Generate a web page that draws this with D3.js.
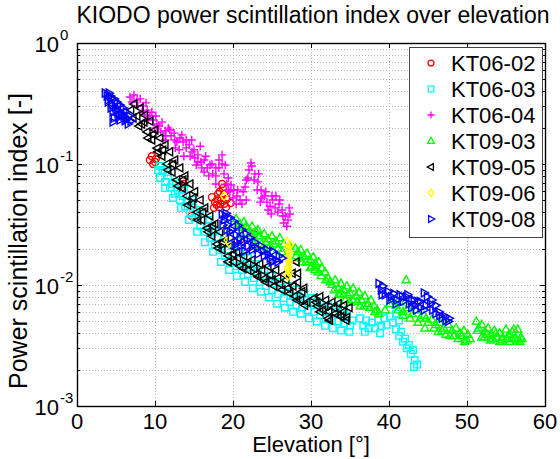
<!DOCTYPE html>
<html>
<head>
<meta charset="utf-8">
<script src="https://cdn.jsdelivr.net/npm/d3@7"></script>
<style>
  html, body { margin: 0; padding: 0; background: #fff; }
  svg { display: block; font-family: Arial, "Liberation Sans", sans-serif; }
</style>
</head>
<body>
<svg id="chart" width="560" height="459"></svg>
<script>
// Each series: [elevation in degrees, power scintillation index]
const KT06_02 = [
  [9.35,0.108],[9.75,0.100],[10.1,0.110],[9.6,0.116],[10.0,0.104],[13.1,0.0658],[13.5,0.0610],[13.7,0.0684],
  [13.4,0.0640],[17.3,0.0532],[17.7,0.0484],[18.1,0.0565],[18.5,0.0504],[18.7,0.0632],[18.85,0.0565],
  [19.2,0.0514],[18.2,0.0440],[17.55,0.0434],[19.1,0.0440],[18.6,0.0684],[18.0,0.0510],[18.4,0.0470],
  [17.9,0.0460],[18.9,0.0470],[18.3,0.0590],[14.7,0.0371],[20.9,0.0235],[22.7,0.0263],[19.7,0.0476]
];
const KT06_03 = [
  [10.4,0.0892],[10.65,0.0767],[11.0,0.0892],[11.3,0.0711],[11.7,0.0797],[11.9,0.0637],[12.3,0.0684],
  [12.55,0.0568],[12.95,0.0610],[13.2,0.0504],[13.6,0.0544],[13.85,0.0448],[14.2,0.0484],[14.5,0.0400],
  [14.9,0.0434],[15.1,0.0358],[15.5,0.0386],[15.8,0.0306],[16.15,0.0344],[16.4,0.0275],[16.8,0.0306],
  [17.05,0.0245],[17.4,0.0275],[17.7,0.0218],[18.1,0.0245],[18.3,0.0195],[18.7,0.0218],[19.0,0.0174],
  [19.4,0.0195],[19.6,0.0155],[20.0,0.0174],[20.4,0.0143],[20.8,0.0161],[21.15,0.0133],[21.5,0.0149],
  [21.9,0.0123],[22.3,0.0137],[22.7,0.0114],[23.1,0.0128],[23.45,0.0106],[23.85,0.0118],[24.2,0.0098],
  [24.6,0.0110],[25.0,0.0091],[25.4,0.0102],[25.8,0.0084],[26.15,0.0094],[26.5,0.0078],[26.9,0.0087],
  [27.3,0.0072],[27.7,0.0081],[28.1,0.0068],[28.45,0.0078],[28.85,0.0065],[29.2,0.0075],[29.6,0.0062],
  [30.0,0.0072],[30.4,0.0060],[30.8,0.0070],[31.15,0.0056],[31.5,0.0065],[31.9,0.0053],[32.3,0.0062],
  [32.7,0.0051],[33.1,0.0060],[33.5,0.0050],[33.85,0.0058],[34.2,0.0048],[34.6,0.0056],[35.0,0.0046],
  [35.3,0.0051],
  [10.65,0.0964],[11.65,0.0859],[12.7,0.0711],[13.7,0.0610],[14.75,0.0504],[15.8,0.0417],[16.8,0.0344],
  [17.8,0.0285],[18.85,0.0245],[19.9,0.0210],[20.9,0.0188],[21.9,0.0167],[22.95,0.0149],[24.0,0.0133],
  [25.0,0.0119],[26.0,0.0106],[27.05,0.0098],[28.1,0.0091],[29.1,0.0085],[30.1,0.0078],[31.15,0.0072],
  [32.2,0.0068],[33.2,0.0065],[34.2,0.0062],
  [11.3,0.0632],[12.3,0.0524],[13.35,0.0434],[14.35,0.0344],[15.4,0.0275],[16.4,0.0226],[17.45,0.0188],
  [18.45,0.0155],[19.5,0.0133],[20.5,0.0119],[21.55,0.0106],[22.55,0.0094],[23.6,0.0088],[24.6,0.0079],
  [25.65,0.0070],[26.65,0.0065],[27.7,0.0060],[28.7,0.0058],[29.75,0.0053],[30.75,0.0050],[31.8,0.0046],
  [32.8,0.0044],[33.85,0.0042],[34.9,0.0041],
  [36.3,0.0053],[36.7,0.0046],[37.05,0.0051],[37.4,0.0044],[37.8,0.0049],[38.2,0.0044],[38.6,0.0051],
  [39.0,0.0046],[39.4,0.0053],[39.7,0.0047],[40.1,0.0055],[40.5,0.0049],[40.9,0.0058],[41.3,0.0051],
  [36.9,0.0041],[38.85,0.0040],
  [40.9,0.0043],[41.3,0.0038],[41.55,0.0041],[41.8,0.0034],[42.05,0.0036],[42.3,0.0030],[42.55,0.0032],
  [42.8,0.0027],[43.1,0.0029],[43.3,0.0024],[43.6,0.0022],[43.2,0.0021]
];
const KT06_04 = [
  [6.8,0.358],[7.3,0.372],[7.7,0.338],[8.1,0.345],[8.5,0.302],[8.85,0.320],[9.0,0.279],[9.35,0.249],
  [9.75,0.231],[10.1,0.249],[10.5,0.206],[10.9,0.222],[11.3,0.188],[11.7,0.198],[12.05,0.171],[12.45,0.180],
  [12.8,0.152],[13.2,0.164],[13.6,0.152],[14.0,0.136],[14.4,0.144],[14.75,0.126],[15.1,0.112],[15.5,0.119],
  [15.9,0.104],[16.3,0.108],[16.7,0.0929],[17.05,0.0982],[17.4,0.0828],[17.8,0.0929],[18.2,0.108],
  [18.6,0.119],[19.0,0.0982],[19.4,0.0767],[19.75,0.0671],[20.1,0.0610],[20.5,0.0544],[20.9,0.0504],
  [21.3,0.0590],[21.7,0.0738],[22.05,0.0892],[22.4,0.0964],[22.8,0.0828],[23.2,0.0711],[23.6,0.0610],
  [24.0,0.0544],[24.35,0.0484],[24.75,0.0448],[25.1,0.0504],[25.5,0.0544],[25.9,0.0467],[26.3,0.0417],
  [26.7,0.0372],[27.05,0.0344],[27.3,0.0386],[26.5,0.0325],[24.9,0.0386],[23.5,0.0484],[21.7,0.0504],
  [20.4,0.0467],[19.4,0.0610],[17.8,0.0684],[16.3,0.0856],[15.3,0.0982],[13.7,0.116],[12.6,0.136],
  [11.3,0.158],[9.9,0.198],[8.7,0.254],[14.7,0.158],[15.8,0.140],
  [7.05,0.325],[7.8,0.302],[8.35,0.268],[9.1,0.231],[9.6,0.268],[10.25,0.214],[10.75,0.184],[11.4,0.171],
  [11.9,0.191],[12.55,0.158],[13.1,0.131],[13.45,0.174],[14.0,0.158],[14.5,0.116],[15.0,0.131],[15.5,0.104],
  [16.0,0.0929],[16.5,0.116],[16.9,0.0797],[17.3,0.100],[17.8,0.0797],[18.2,0.0929],[18.6,0.100],
  [18.85,0.0828],[19.2,0.0684],[19.6,0.0590],[20.0,0.0524],[20.6,0.0610],[21.15,0.0467],[21.55,0.0646],
  [21.9,0.0767],[22.3,0.102],[22.7,0.0738],[23.1,0.0610],[23.3,0.0828],[23.7,0.0524],[24.2,0.0590],
  [24.5,0.0417],[25.0,0.0544],[25.4,0.0434],[25.75,0.0400],[26.0,0.0504],[26.4,0.0372],[26.9,0.0306],
  [27.2,0.0434]
];
const KT09_03 = [
  [20.4,0.0352],[20.9,0.0320],[21.4,0.0333],[21.9,0.0295],[22.45,0.0306],[22.95,0.0275],[23.45,0.0254],
  [24.0,0.0265],[24.5,0.0240],[25.0,0.0254],[25.5,0.0230],[26.0,0.0245],[26.5,0.0218],[28.0,0.0200],
  [28.3,0.0188],[28.7,0.0195],[29.1,0.0174],[29.5,0.0182],[29.9,0.0162],[30.3,0.0170],[30.6,0.0150],
  [31.0,0.0155],[31.4,0.0138],[31.8,0.0128],[32.2,0.0114],[28.85,0.0154],[29.9,0.0139],[30.9,0.0128],
  [27.3,0.0209],[22.8,0.0212],[24.1,0.0195],
  [20.6,0.0300],[21.15,0.0259],[21.65,0.0306],[22.2,0.0265],[22.7,0.0245],[23.2,0.0285],[23.7,0.0218],
  [24.2,0.0226],[24.75,0.0210],[25.25,0.0218],[25.75,0.0200],[26.3,0.0188],[28.1,0.0174],[28.6,0.0167],
  [29.35,0.0155],[30.1,0.0143],[30.5,0.0133],[31.3,0.0119],[31.9,0.0110],[32.45,0.0106],
  [32.7,0.0101],[33.1,0.0110],[33.5,0.0094],[33.85,0.0103],[34.2,0.0091],[34.6,0.0098],[35.0,0.0086],
  [35.4,0.0094],[35.8,0.0081],[36.15,0.0087],[36.5,0.0075],[36.9,0.0081],[37.3,0.0070],[37.7,0.0075],
  [38.1,0.0067],[38.5,0.0062],[33.7,0.0083],[35.0,0.0072],[36.3,0.0067],[34.4,0.0075],
  [33.0,0.0091],[33.6,0.0085],[34.1,0.0083],[34.75,0.0083],[35.4,0.0075],[35.9,0.0073],[36.8,0.0067],
  [37.55,0.0065],[38.2,0.0060],[38.7,0.0058],[39.5,0.0062],[40.1,0.0070],
  [40.5,0.0075],[40.9,0.0068],[41.4,0.0072],[41.8,0.0060],[42.2,0.0110],[42.4,0.0065],[43.0,0.0058],
  [43.5,0.0062],[44.0,0.0053],[44.5,0.0056],[45.0,0.0049],[45.5,0.0052],[46.0,0.0047],[46.5,0.0049],
  [47.05,0.0044],[47.6,0.0047],[48.1,0.0042],[48.6,0.0044],[49.1,0.0040],[49.6,0.0042],[50.1,0.0039],
  [49.7,0.0034],[44.6,0.0044],[46.3,0.0041],[47.8,0.0038],[41.8,0.0056],
  [41.15,0.0062],[42.7,0.0053],[43.7,0.0049],[44.75,0.0053],[45.75,0.0044],[46.8,0.0042],[47.3,0.0039],
  [48.3,0.0038],[48.85,0.0036],[49.35,0.0038],[50.0,0.0035],[50.4,0.0036],
  [51.2,0.0050],[51.5,0.0044],[51.9,0.0047],[52.3,0.0041],[52.7,0.0044],[53.1,0.0039],[53.5,0.0042],
  [53.8,0.0037],[54.2,0.0040],[54.6,0.0037],[55.0,0.0043],[55.4,0.0039],[55.8,0.0041],[56.2,0.0036],
  [56.5,0.0043],[56.9,0.0037],[53.0,0.0035],[54.2,0.0034],[55.5,0.0034],[56.8,0.0034],[51.9,0.0037],
  [51.3,0.0042],[52.2,0.0037],[52.55,0.0039],[53.3,0.0036],[53.7,0.0040],[54.5,0.0035],[55.1,0.0036],
  [55.8,0.0036],[56.4,0.0035],[57.05,0.0036],[56.0,0.0043]
];
const KT09_05 = [
  [6.9,0.279],[7.3,0.313],[7.7,0.249],[8.1,0.290],[8.3,0.214],[8.7,0.254],[9.0,0.184],[9.35,0.226],
  [9.6,0.158],[10.0,0.191],[10.3,0.135],[10.65,0.164],[10.9,0.116],[11.3,0.144],[11.55,0.100],[11.9,0.126],
  [12.2,0.0856],[12.55,0.108],[12.8,0.0738],[13.2,0.0929],[13.5,0.0632],[13.85,0.0797],[14.1,0.0544],
  [14.5,0.0684],[14.75,0.0467],[15.1,0.0590],[15.4,0.0400],[15.8,0.0504],[16.0,0.0344],[16.4,0.0434],
  [16.7,0.0295],[17.05,0.0372],[17.3,0.0254],[17.7,0.0320],[17.95,0.0218],[18.3,0.0275],[18.6,0.0195],
  [19.0,0.0235],[19.4,0.0174],[19.75,0.0210],[20.1,0.0155],[20.5,0.0188],[20.9,0.0143],[21.4,0.0174],
  [21.9,0.0133],[22.45,0.0161],[22.95,0.0123],[23.45,0.0149],[24.0,0.0113],[24.5,0.0143],[25.0,0.0110],
  [25.5,0.0133],[26.0,0.0102],[26.5,0.0122],[27.05,0.0094],[27.6,0.0125],[27.9,0.0081],[28.3,0.0105],
  [28.7,0.0075],[29.1,0.0094],[29.5,0.0072],[28.1,0.0155],
  [7.2,0.240],[7.95,0.206],[8.6,0.222],[9.1,0.164],[9.75,0.176],[10.4,0.126],[11.0,0.130],[11.65,0.0892],
  [12.3,0.0996],[12.95,0.0658],[13.6,0.0738],[14.2,0.0458],[14.9,0.0524],[15.5,0.0344],[16.15,0.0400],
  [16.8,0.0275],[17.4,0.0306],[18.1,0.0202],[18.7,0.0226],[19.4,0.0155],[20.0,0.0180],[20.6,0.0168],
  [21.3,0.0137],[21.9,0.0149],[22.7,0.0137],[23.2,0.0117],[23.7,0.0133],[24.2,0.0106],[24.75,0.0121],
  [25.25,0.0098],[25.75,0.0114],[26.3,0.0091],[26.8,0.0110],[27.3,0.0085],[27.7,0.0098],[28.2,0.0075],
  [28.85,0.0088],[29.2,0.0068],[28.3,0.0125],
  [30.4,0.0078],[30.8,0.0067],[31.15,0.0080],[31.5,0.0062],[31.9,0.0075],[32.3,0.0060],[32.7,0.0072],
  [33.1,0.0058],[33.5,0.0070],[33.85,0.0055],[34.2,0.0068],[34.6,0.0054],[34.9,0.0065],[32.4,0.0051],
  [30.65,0.0072],[31.15,0.0060],[31.8,0.0067],[32.2,0.0053],[32.95,0.0065],[33.5,0.0056],[34.1,0.0060],
  [34.5,0.0051]
];
const KT09_06 = [
  [18.85,0.0544],[19.1,0.0295],[19.35,0.0267],[19.6,0.0245],[19.5,0.0222],[19.3,0.0235],
  [26.9,0.0226],[27.05,0.0205],[27.2,0.0188],[27.05,0.0170],[27.2,0.0155],[27.05,0.0141],[27.2,0.0128],
  [27.05,0.0119],[27.3,0.0214],[27.1,0.0195],[27.1,0.0162],[27.1,0.0134]
];
const KT09_08 = [
  [3.6,0.386],[3.85,0.365],[4.1,0.386],[4.0,0.338],[4.35,0.350],[4.5,0.313],[4.75,0.345],[4.9,0.296],
  [5.1,0.325],[5.25,0.279],[5.5,0.307],[5.65,0.264],[5.9,0.290],[6.0,0.249],[6.3,0.269],[6.4,0.235],
  [6.7,0.249],[6.9,0.227],[4.6,0.269],[4.75,0.240],[4.35,0.290],[5.4,0.244],[6.15,0.227],[6.55,0.214],
  [4.6,0.222],[4.0,0.325],[5.0,0.279],[5.75,0.254],[5.25,0.259],[6.3,0.240],[4.25,0.365],[5.5,0.231],
  [18.6,0.0385],[18.85,0.0344],[19.1,0.0390],[19.35,0.0313],[19.6,0.0360],[19.9,0.0285],[20.1,0.0335],
  [20.4,0.0259],[20.65,0.0310],[20.9,0.0245],[21.15,0.0285],[21.4,0.0226],[21.65,0.0265],[21.9,0.0210],
  [22.2,0.0245],[22.45,0.0195],[22.8,0.0226],[23.2,0.0180],[23.6,0.0210],[24.0,0.0174],[24.35,0.0195],
  [24.75,0.0167],[25.1,0.0190],[25.5,0.0161],[25.9,0.0174],[26.3,0.0167],[20.25,0.0214],[21.5,0.0190],
  [19.6,0.0275],[18.7,0.0313],[19.2,0.0285],[19.75,0.0245],[20.5,0.0226],[21.0,0.0210],[21.8,0.0235],
  [22.6,0.0210],[23.1,0.0200],[23.85,0.0190],[24.5,0.0177],[25.0,0.0155],[25.75,0.0155],[19.0,0.0372],
  [38.7,0.0103],[39.0,0.0091],[39.2,0.0098],[39.5,0.0083],[39.9,0.0088],[40.3,0.0080],[40.6,0.0085],
  [41.0,0.0075],[41.4,0.0083],[41.8,0.0073],[42.2,0.0080],[42.6,0.0070],[42.9,0.0075],[43.3,0.0068],
  [43.7,0.0073],[44.1,0.0065],[44.5,0.0086],[44.9,0.0080],[45.3,0.0070],[45.6,0.0062],[46.0,0.0058],
  [46.4,0.0060],[46.8,0.0053],[47.2,0.0055],[47.6,0.0050],[44.5,0.0062],[43.5,0.0062],
  [39.1,0.0083],[40.1,0.0075],[40.9,0.0070],[41.7,0.0080],[42.4,0.0083],[43.2,0.0075],[44.0,0.0073],
  [44.75,0.0068],[45.5,0.0075],[46.0,0.0068],[46.5,0.0056],[47.3,0.0051],[47.7,0.0053],[42.9,0.0065]
];

const seriesNames  = ["KT06-02", "KT06-03", "KT06-04", "KT09-03", "KT09-05", "KT09-06", "KT09-08"];
const seriesData   = [KT06_02, KT06_03, KT06_04, KT09_03, KT09_05, KT09_06, KT09_08];
const seriesColors = ["#ff0000", "#00ffff", "#ff00ff", "#00ff00", "#000000", "#ffff00", "#0000ff"];
const seriesMarks  = ["circle", "square", "plus", "triUp", "triLeft", "diamond", "triRight"];

const xTicks = [0, 10, 20, 30, 40, 50, 60];
const yExponents = [-3, -2, -1, 0];

const titleText = "KIODO power scintillation index over elevation";
const xLabelText = "Elevation [\u00b0]";
const yLabelText = "Power scintillation index [-]";

// ---- layout ----
const plot = { left: 77, right: 545, top: 43, bottom: 406 };

const svg = d3.select("#chart");
const x = d3.scaleLinear().domain([0, 60]).range([plot.left, plot.right]);
const y = d3.scaleLog().domain([1e-3, 1]).range([plot.bottom, plot.top]);

// open marker symbols
const markerPath = {
  circle:   "M3.5,0A3.5,3.5 0 1,1 -3.5,0A3.5,3.5 0 1,1 3.5,0Z",
  square:   "M-3.3,-3.3H3.3V3.3H-3.3Z",
  plus:     "M-4.2,0H4.2M0,-4.2V4.2",
  triUp:    "M0,-4.4L4,2.8H-4Z",
  triLeft:  "M-4.4,0L2.8,-4V4Z",
  diamond:  "M0,-4.4L3.4,0L0,4.4L-3.4,0Z",
  triRight: "M4.4,0L-2.8,-4V4Z"
};

// ---- grid ----
const grid = svg.append("g").attr("stroke", "#b4b4b4").attr("stroke-width", 1)
  .attr("stroke-dasharray", "1,2").attr("fill", "none");
const yGridVals = [];
yExponents.slice(0, -1).forEach(e => {
  for (let m = 1; m <= 9; m++) yGridVals.push(m * Math.pow(10, e));
});
const yInner = yGridVals.filter(v => v > 1e-3 && v < 1);
grid.selectAll("line.gy").data(yInner).join("line")
  .attr("x1", plot.left).attr("x2", plot.right)
  .attr("y1", d => Math.round(y(d)) + 0.5).attr("y2", d => Math.round(y(d)) + 0.5);
grid.selectAll("line.gx").data(xTicks.slice(1, -1)).join("line")
  .attr("y1", plot.top).attr("y2", plot.bottom)
  .attr("x1", d => Math.round(x(d)) + 0.5).attr("x2", d => Math.round(x(d)) + 0.5);

// ---- data markers ----
const dataG = svg.append("g");
seriesData.forEach((arr, i) => {
  dataG.append("g")
    .attr("fill", "none").attr("stroke", seriesColors[i]).attr("stroke-width", 1.4)
    .selectAll("path").data(arr).join("path")
    .attr("d", markerPath[seriesMarks[i]])
    .attr("transform", d => `translate(${x(d[0])},${y(d[1])})`);
});

// ---- axes box and inward ticks ----
const axG = svg.append("g").attr("stroke", "#000").attr("fill", "none");
axG.append("rect")
  .attr("x", plot.left + 0.5).attr("y", plot.top + 0.5)
  .attr("width", plot.right - plot.left).attr("height", plot.bottom - plot.top)
  .attr("stroke-width", 1.4);

const majorLen = 5, minorLen = 3;
xTicks.slice(1, -1).forEach(t => {
  const px = Math.round(x(t)) + 0.5;
  axG.append("line").attr("x1", px).attr("x2", px).attr("y1", plot.bottom).attr("y2", plot.bottom - majorLen);
  axG.append("line").attr("x1", px).attr("x2", px).attr("y1", plot.top).attr("y2", plot.top + majorLen);
});
yInner.forEach(v => {
  const py = Math.round(y(v)) + 0.5;
  const isMajor = Math.abs(Math.log10(v) - Math.round(Math.log10(v))) < 1e-9;
  const len = isMajor ? majorLen : minorLen;
  axG.append("line").attr("x1", plot.left).attr("x2", plot.left + len).attr("y1", py).attr("y2", py);
  axG.append("line").attr("x1", plot.right).attr("x2", plot.right - len).attr("y1", py).attr("y2", py);
});

// ---- tick labels ----
const fs = 22;
const labG = svg.append("g").attr("fill", "#000").style("font-size", fs + "px");
labG.selectAll("text.xt").data(xTicks).join("text")
  .attr("x", d => x(d)).attr("y", 429).attr("text-anchor", "middle").text(d => d);

yExponents.forEach(e => {
  const py = y(Math.pow(10, e));
  labG.append("text").attr("x", 59).attr("y", py + 9).attr("text-anchor", "end").text("10");
  labG.append("text").attr("x", 60).attr("y", py - 3).attr("text-anchor", "start")
    .style("font-size", "15px").text(String(e));
});

// ---- title and axis labels ----
svg.append("text").attr("x", 313).attr("y", 23).attr("text-anchor", "middle")
  .style("font-size", "23px").text(titleText);
svg.append("text").attr("x", 311).attr("y", 452).attr("text-anchor", "middle")
  .style("font-size", "22px").text(xLabelText);
svg.append("text").attr("transform", "translate(27,241) rotate(-90)").attr("text-anchor", "middle")
  .style("font-size", "25px").text(yLabelText);

// ---- legend ----
const leg = svg.append("g");
leg.append("rect").attr("x", 409.5).attr("y", 47.5).attr("width", 133).attr("height", 190)
  .attr("fill", "#fff").attr("stroke", "#444").attr("stroke-width", 1);
seriesNames.forEach((name, i) => {
  const cy = 63 + i * 26;
  leg.append("path").attr("d", markerPath[seriesMarks[i]])
    .attr("transform", `translate(431,${cy}) scale(0.85)`)
    .attr("fill", "none").attr("stroke", seriesColors[i]).attr("stroke-width", 1.5);
  leg.append("text").attr("x", 451).attr("y", cy + 8).style("font-size", fs + "px").text(name);
});
</script>
</body>
</html>
